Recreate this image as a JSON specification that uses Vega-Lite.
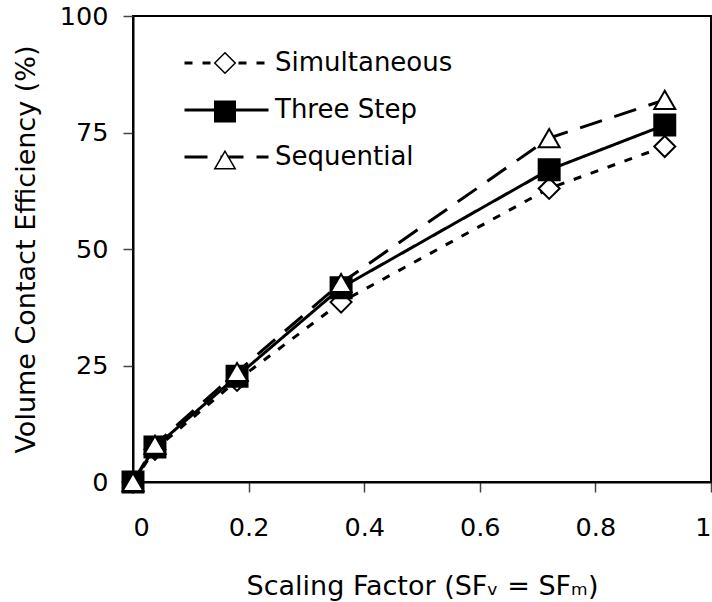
{
  "$schema": "https://vega.github.io/schema/vega-lite/v6.json",
  "width": 578,
  "height": 466,
  "autosize": "none",
  "padding": {"left": 133, "top": 16, "right": 1, "bottom": 120},
  "background": "white",
  "config": {
    "view": {"stroke": "black", "strokeWidth": 2},
    "font": "DejaVu Sans",
    "axis": {
      "domainColor": "black", "domainWidth": 2, "grid": false,
      "tickColor": "#444", "tickWidth": 1.5, "tickSize": 10,
      "labelFont": "DejaVu Sans", "labelFontSize": 25.5, "labelColor": "black",
      "titleFont": "DejaVu Sans", "titleFontSize": 27, "titleFontWeight": "normal", "titleColor": "black"
    },
    "legend": {"labelFont": "DejaVu Sans", "labelFontSize": 26, "labelColor": "black", "labelLimit": 400, "padding": 0, "rowPadding": 21, "clipHeight": 26, "title": null}
  },
  "data": {
    "values": [
      {"method": "Simultaneous", "sf": 0, "eff": 0},
      {"method": "Simultaneous", "sf": 0.038, "eff": 7},
      {"method": "Simultaneous", "sf": 0.18, "eff": 21.8},
      {"method": "Simultaneous", "sf": 0.36, "eff": 38.6},
      {"method": "Simultaneous", "sf": 0.72, "eff": 63},
      {"method": "Simultaneous", "sf": 0.92, "eff": 72},
      {"method": "Three Step", "sf": 0, "eff": 0},
      {"method": "Three Step", "sf": 0.038, "eff": 7.5},
      {"method": "Three Step", "sf": 0.18, "eff": 22.7},
      {"method": "Three Step", "sf": 0.36, "eff": 41.7},
      {"method": "Three Step", "sf": 0.72, "eff": 67},
      {"method": "Three Step", "sf": 0.92, "eff": 76.6},
      {"method": "Sequential", "sf": 0, "eff": 0},
      {"method": "Sequential", "sf": 0.038, "eff": 8},
      {"method": "Sequential", "sf": 0.18, "eff": 23.6},
      {"method": "Sequential", "sf": 0.36, "eff": 42.7},
      {"method": "Sequential", "sf": 0.72, "eff": 73.8},
      {"method": "Sequential", "sf": 0.92, "eff": 82}
    ]
  },
  "encoding": {
    "x": {
      "field": "sf", "type": "quantitative",
      "scale": {"domain": [0, 1], "nice": false},
      "axis": {"values": [0, 0.2, 0.4, 0.6, 0.8, 1], "format": "~g", "labelPadding": 23, "titlePadding": 33,
               "title": "Scaling Factor (SFᵥ = SFₘ)"}
    },
    "y": {
      "field": "eff", "type": "quantitative",
      "scale": {"domain": [0, 100], "nice": false},
      "axis": {"values": [0, 25, 50, 75, 100], "labelPadding": 15, "titlePadding": 19,
               "title": "Volume Contact Efficiency (%)"}
    }
  },
  "layer": [
    {
      "mark": {"type": "line", "strokeWidth": 3, "color": "black"},
      "encoding": {
        "strokeDash": {
          "field": "method", "type": "nominal",
          "scale": {"domain": ["Simultaneous", "Three Step", "Sequential", "-"], "range": [[8, 10], [1, 0], [23, 13], [1, 0]]},
          "legend": {"orient": "none", "legendX": 50, "legendY": 34, "values": ["Simultaneous", "Three Step", "Sequential"],
                     "symbolType": "stroke", "symbolSize": 7056, "symbolStrokeWidth": 3, "symbolStrokeColor": "black", "labelOffset": 5}
        }
      }
    },
    {
      "mark": {"type": "point", "size": 440, "stroke": "black", "strokeWidth": 2, "opacity": 1},
      "encoding": {
        "shape": {
          "field": "method", "type": "nominal",
          "scale": {"domain": ["Simultaneous", "Three Step", "Sequential"], "range": ["diamond", "square", "triangle-up"]},
          "legend": {"orient": "none", "legendX": 79, "legendY": 34, "symbolSize": 420, "rowPadding": 22.5, "labelExpr": "''",
                     "encode": {"symbols": {"update": {
                       "stroke": {"value": "black"}, "strokeWidth": {"value": 2}, "strokeOpacity": {"value": 1},
                       "fill": {"signal": "datum.value === 'Three Step' ? 'black' : 'white'"}, "fillOpacity": {"value": 1}, "opacity": {"value": 1}}}}}
        },
        "fill": {
          "field": "method", "type": "nominal",
          "scale": {"domain": ["Simultaneous", "Three Step", "Sequential"], "range": ["white", "black", "white"]},
          "legend": null
        }
      }
    }
  ]
}
